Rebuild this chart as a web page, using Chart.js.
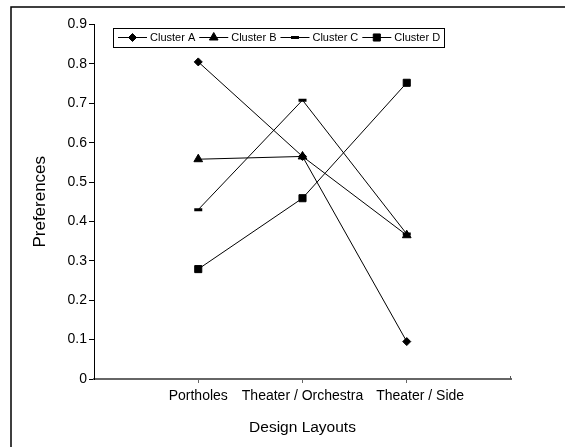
<!DOCTYPE html>
<html>
<head>
<meta charset="utf-8">
<script src="https://cdn.jsdelivr.net/npm/chart.js@4/dist/chart.umd.min.js"></script>
<style>
  html, body { margin: 0; padding: 0; background: #fff; }
  #wrap { width: 565px; height: 447px; position: relative; }
</style>
</head>
<body>
<div id="wrap"><canvas id="c" width="565" height="447"></canvas></div>
<script>
// ---- data ----
const categories = ['Portholes', 'Theater / Orchestra', 'Theater / Side'];
const seriesNames = ['Cluster A', 'Cluster B', 'Cluster C', 'Cluster D'];
const clusterA = [0.805, 0.565, 0.095];
const clusterB = [0.558, 0.565, 0.365];
const clusterC = [0.430, 0.708, 0.368];
const clusterD = [0.279, 0.459, 0.752];
const yTicks = [0, 0.1, 0.2, 0.3, 0.4, 0.5, 0.6, 0.7, 0.8, 0.9];

const seriesValues = [clusterA, clusterB, clusterC, clusterD];
const markerStyles = [
  { pointStyle: 'rectRot', radius: 4, bw: 1 },
  { pointStyle: 'triangle', radius: 5, bw: 1 },
  { pointStyle: 'line', radius: 4, bw: 3 },
  { pointStyle: 'rect', radius: 5, bw: 1 }
];

const FONT = "'Liberation Sans', Arial, sans-serif";
const TICK_FONT = '14px ' + FONT;

const datasets = seriesNames.map((name, i) => ({
  label: name,
  data: seriesValues[i].map((v, j) => ({ x: j, y: v })),
  borderColor: '#000',
  backgroundColor: '#000',
  borderWidth: 1,
  tension: 0,
  pointStyle: markerStyles[i].pointStyle,
  pointRadius: markerStyles[i].radius,
  pointHoverRadius: markerStyles[i].radius,
  pointBorderWidth: markerStyles[i].bw,
  pointBackgroundColor: '#000',
  pointBorderColor: '#000'
}));

function drawMarker(ctx, style, x, y) {
  ctx.save();
  ctx.fillStyle = '#000';
  ctx.strokeStyle = '#000';
  ctx.lineWidth = style.bw;
  if (Chart.helpers && Chart.helpers.drawPoint) {
    Chart.helpers.drawPoint(ctx, { pointStyle: style.pointStyle, rotation: 0, radius: style.radius, borderWidth: style.bw }, x, y);
  }
  ctx.restore();
}

const framePlugin = {
  id: 'frame',
  beforeDraw(chart) {
    const ctx = chart.ctx;
    ctx.save();
    ctx.fillStyle = '#fff';
    ctx.fillRect(0, 0, chart.width, chart.height);
    ctx.strokeStyle = '#000';
    ctx.lineWidth = 1.5;
    ctx.beginPath();
    ctx.moveTo(11, 460);
    ctx.lineTo(11, 7);
    ctx.lineTo(600, 7);
    ctx.stroke();
    ctx.restore();
  },
  afterDraw(chart) {
    const ctx = chart.ctx;
    const area = chart.chartArea;
    const xs = chart.scales.x;
    ctx.save();
    // small end tick at right end of x axis
    ctx.strokeStyle = '#555';
    ctx.lineWidth = 1;
    ctx.beginPath();
    ctx.moveTo(Math.round(area.right) - 0.5, area.bottom);
    ctx.lineTo(Math.round(area.right) - 0.5, area.bottom - 3);
    ctx.stroke();

    // category labels: centred on their ticks, pushed right to keep a minimum gap
    ctx.font = TICK_FONT;
    ctx.fillStyle = '#000';
    ctx.textBaseline = 'middle';
    ctx.textAlign = 'left';
    let prevEnd = -Infinity;
    const minGap = 13;
    categories.forEach((c, i) => {
      const w = ctx.measureText(c).width;
      let left = xs.getPixelForValue(i) - w / 2;
      if (left < prevEnd + minGap) left = prevEnd + minGap;
      ctx.fillText(c, left, area.bottom + 17);
      prevEnd = left + w;
    });

    // legend box
    const boxL = 113, boxT = 28, boxR = 444, boxB = 47;
    const cy = 37.5;
    ctx.strokeStyle = '#000';
    ctx.lineWidth = 1;
    ctx.strokeRect(boxL + 0.5, boxT + 0.5, boxR - boxL, boxB - boxT);
    ctx.font = '11px ' + FONT;
    let x = 118;
    chart.data.datasets.forEach((ds, i) => {
      ctx.beginPath();
      ctx.strokeStyle = '#000';
      ctx.lineWidth = 1;
      ctx.moveTo(x, cy);
      ctx.lineTo(x + 29, cy);
      ctx.stroke();
      drawMarker(ctx, markerStyles[i], x + 14.5, cy);
      ctx.fillStyle = '#000';
      ctx.fillText(ds.label, x + 32, cy);
      x += 32 + ctx.measureText(ds.label).width + 4;
    });
    ctx.restore();
  }
};

new Chart(document.getElementById('c'), {
  type: 'line',
  data: { datasets },
  plugins: [framePlugin],
  options: {
    responsive: false,
    animation: false,
    devicePixelRatio: 1,
    layout: { padding: { left: 0, right: 54, top: 24.5, bottom: 0 } },
    plugins: {
      legend: { display: false },
      tooltip: { enabled: false }
    },
    scales: {
      x: {
        type: 'linear',
        min: -1,
        max: 3,
        afterBuildTicks: (axis) => { axis.ticks = categories.map((c, i) => ({ value: i })); },
        afterFit: (scale) => { scale.height = 68; },
        border: { display: true, color: '#666', width: 2 },
        grid: { drawOnChartArea: false, drawTicks: true, tickLength: 4, color: '#666' },
        ticks: { display: false },
        title: {
          display: true,
          text: 'Design Layouts',
          color: '#000',
          font: { family: FONT, size: 15.5 },
          padding: { top: 0, bottom: 10 }
        }
      },
      y: {
        min: 0,
        max: 0.9,
        afterBuildTicks: (axis) => { axis.ticks = yTicks.map(v => ({ value: v })); },
        afterFit: (scale) => { scale.width = 94; },
        border: { display: true, color: '#000', width: 1 },
        grid: { drawOnChartArea: false, drawTicks: true, tickLength: 5, color: '#000' },
        ticks: {
          padding: 2,
          color: '#000',
          font: { family: FONT, size: 14 },
          callback: (v) => v === 0 ? '0' : Number(v).toFixed(1)
        },
        title: {
          display: true,
          text: 'Preferences',
          color: '#000',
          font: { family: FONT, size: 17 },
          padding: { top: 30, bottom: 0 }
        }
      }
    }
  }
});
</script>
</body>
</html>
